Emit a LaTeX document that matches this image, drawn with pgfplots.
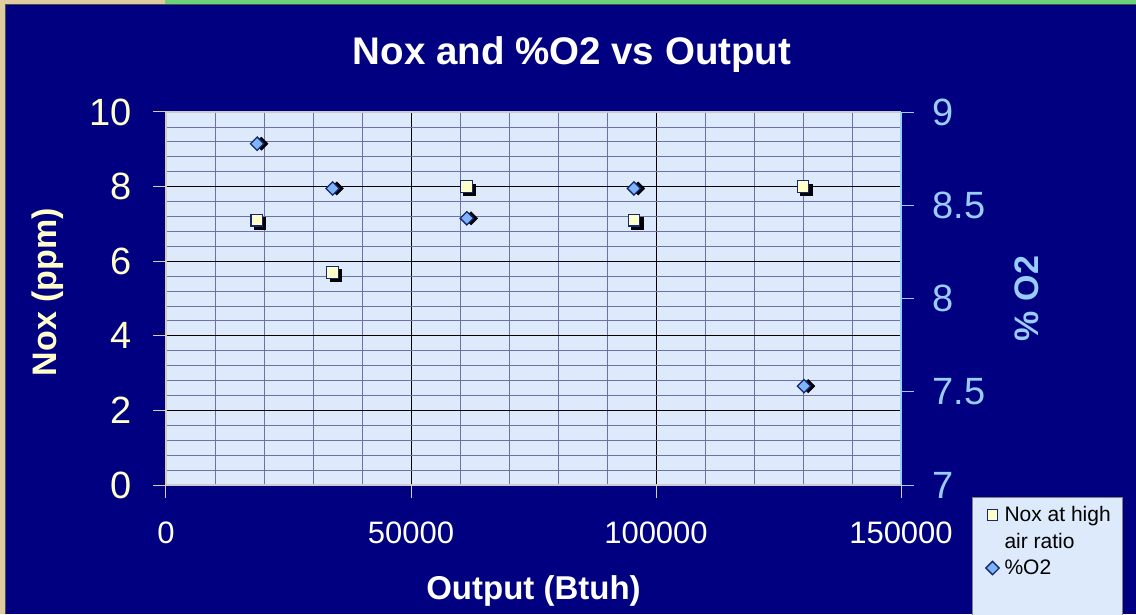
\documentclass[border=0pt]{standalone}
\usepackage{fontspec}
\setmainfont{Liberation Sans}
\usepackage{pgfplots}
\pgfplotsset{compat=1.18}
\definecolor{navybg}{RGB}{0,0,128}
\definecolor{plotbg}{RGB}{220,234,251}
\definecolor{gridminor}{RGB}{112,112,168}
\definecolor{ltyellow}{RGB}{255,255,204}
\definecolor{ltblue}{RGB}{153,204,255}
\definecolor{noxfill}{RGB}{255,255,204}
\definecolor{o2fill}{RGB}{128,180,250}
\definecolor{markdraw}{RGB}{20,40,110}
\definecolor{beige}{RGB}{222,204,160}
\definecolor{greenstrip}{RGB}{110,210,120}
\definecolor{axisbeige}{RGB}{214,206,176}
\begin{document}
\begin{tikzpicture}
\useasboundingbox (0pt,0pt) rectangle (1136pt,614pt);
\clip (0pt,0pt) rectangle (1136pt,614pt);
\fill[beige] (0pt,0pt) rectangle (1136pt,614pt);
\fill[greenstrip] (165pt,609pt) rectangle (1136pt,614pt);
\fill[navybg] (5pt,0pt) rectangle (1136pt,609pt);
\draw[black!70, line width=1pt] (5pt,0pt) -- (5pt,609pt) -- (1136pt,609pt);
\node[anchor=base, text=white, font=\fontsize{38.5}{40}\selectfont\bfseries] at (572pt,549pt) {Nox and \%O2 vs Output};

\begin{axis}[
  at={(166pt,129pt)}, anchor=south west,
  scale only axis, width=735pt, height=373pt,
  xmin=0, xmax=150000, ymin=0, ymax=10,
  axis background/.style={fill=plotbg},
  grid=both,
  major grid style={black, line width=0.8pt},
  minor grid style={gridminor, line width=0.8pt},
  xtick={0,50000,100000,150000},
  minor x tick num=4,
  ytick={0,2,4,6,8,10},
  minor y tick num=4,
  tick align=outside,
  major tick length=13pt,
  minor tick length=0pt,
  xtick pos=lower, ytick pos=left,
  separate axis lines,
  x axis line style={draw=black!20, line width=1.2pt},
  y axis line style={draw=axisbeige, line width=1.2pt},
  major tick style={draw=axisbeige, line width=1pt},
  scaled x ticks=false,
  /pgf/number format/fixed,
  /pgf/number format/1000 sep={},
  /pgf/number format/assume math mode=true,
  xticklabel style={font=\fontsize{31}{33}\selectfont, text=white, yshift=-20pt},
  yticklabel style={font=\fontsize{38}{40}\selectfont, text=ltyellow, xshift=-18pt},
  ylabel={Nox (ppm)},
  ylabel style={font=\fontsize{34}{36}\selectfont\bfseries, text=ltyellow, at={(axis description cs:-0.1605,0.517)}, anchor=center},
  xlabel={Output (Btuh)},
  xlabel style={font=\fontsize{33}{35}\selectfont\bfseries, text=white, at={(axis description cs:0.5,-0.308)}, anchor=base},
]
\addplot[only marks, mark=square*, mark size=5.8pt, mark options={fill=black, draw=black, xshift=3pt, yshift=-3pt}] coordinates {
 (18500,7.1) (34000,5.7) (61300,8.0) (95500,7.1) (130000,8.0)};
\addplot[only marks, mark=square*, mark size=5.8pt, mark options={fill=noxfill, draw=markdraw, line width=1.3pt}] coordinates {
 (18500,7.1) (34000,5.7) (61300,8.0) (95500,7.1) (130000,8.0)};
\end{axis}

\begin{axis}[
  at={(166pt,129pt)}, anchor=south west,
  scale only axis, width=735pt, height=373pt,
  xmin=0, xmax=150000, ymin=7, ymax=9,
  ytick={7,7.5,8,8.5,9},
  axis y line*=right, axis x line=none,
  y axis line style={draw=ltblue, line width=1.2pt},
  tick align=outside,
  major tick length=13pt,
  minor tick length=0pt,
  major tick style={draw=ltblue, line width=1pt},
  /pgf/number format/fixed,
  /pgf/number format/assume math mode=true,
  yticklabel style={font=\fontsize{38}{40}\selectfont, text=ltblue, xshift=15pt},
  ylabel={\% O2},
  ylabel style={font=\fontsize{34}{36}\selectfont\bfseries, text=ltblue, at={(axis description cs:1.1714,0.5)}, anchor=center},
  legend cell align=left,
  legend image code/.code={\path[draw=none,fill=none] (0pt,0pt) -- (20pt,0pt); \draw[#1] plot coordinates {(10pt,0pt)};},
  legend style={at={(axis description cs:1.0966,-0.0322)}, anchor=north west, fill=plotbg, draw=gray, line width=1pt,
    font=\fontsize{21}{23}\selectfont, text=black, inner xsep=10pt, inner ysep=7pt, row sep=6pt},
]
\addlegendimage{only marks, mark=square*, mark size=5.3pt, mark options={fill=noxfill, draw=markdraw, line width=1.3pt}}
\addlegendentry{Nox at high}
\addlegendimage{empty legend}
\addlegendentry{air ratio}
\addplot[forget plot, only marks, mark=square*, mark size=4.7pt, mark options={rotate=45, fill=black, draw=black, xshift=3pt, yshift=-3pt}] coordinates {
 (18600,8.83) (34000,8.59) (61400,8.43) (95500,8.59) (130200,7.53)};
\addplot[only marks, mark=square*, mark size=4.7pt, mark options={rotate=45, fill=o2fill, draw=markdraw, line width=1.3pt}] coordinates {
 (18600,8.83) (34000,8.59) (61400,8.43) (95500,8.59) (130200,7.53)};
\addlegendentry{\%O2}
\addlegendimage{empty legend}
\addlegendentry{\strut}
\addlegendimage{empty legend}
\addlegendentry{\strut}
\end{axis}
\end{tikzpicture}
\end{document}
